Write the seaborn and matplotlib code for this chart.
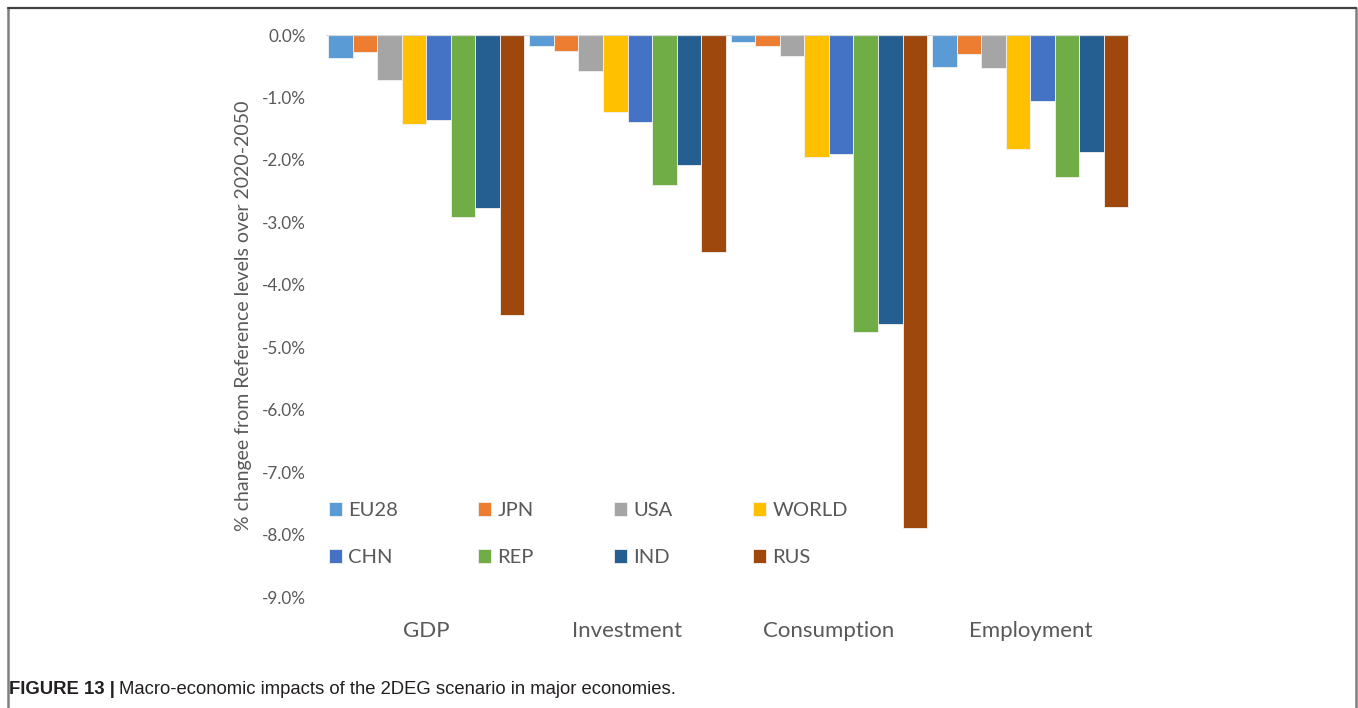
import matplotlib
matplotlib.use("Agg")
import matplotlib.pyplot as plt
from matplotlib.lines import Line2D
import seaborn as sns
import pandas as pd

# Indicators on the x axis and the regions compared within each indicator
indicators = ["GDP", "Investment", "Consumption", "Employment"]
regions = ["EU28", "JPN", "USA", "WORLD", "CHN", "REP", "IND", "RUS"]

# % change from reference levels (2020-2050), one list per region, ordered as `indicators`
eu28 = [-0.37, -0.18, -0.12, -0.51]
jpn = [-0.28, -0.26, -0.18, -0.30]
usa = [-0.72, -0.57, -0.33, -0.53]
world = [-1.42, -1.24, -1.96, -1.83]
chn = [-1.36, -1.39, -1.90, -1.06]
rep = [-2.92, -2.41, -4.75, -2.27]
ind = [-2.77, -2.08, -4.63, -1.88]
rus = [-4.48, -3.47, -7.89, -2.75]

yticks = [0, -1, -2, -3, -4, -5, -6, -7, -8, -9]
ylabel = "% changee from Reference levels over 2020-2050"
caption_bold = "FIGURE 13 |"
caption_text = "Macro-economic impacts of the 2DEG scenario in major economies."

palette = ["#5B9BD5", "#ED7D31", "#A5A5A5", "#FFC000",
           "#4472C4", "#70AD47", "#255E91", "#9E480E"]

series = [eu28, jpn, usa, world, chn, rep, ind, rus]
rows = []
for reg, vals in zip(regions, series):
    for ind_name, v in zip(indicators, vals):
        rows.append({"indicator": ind_name, "region": reg, "value": v})
df = pd.DataFrame(rows)

sns.set_theme(style="white")
plt.rcParams["font.family"] = ["Lato", "DejaVu Sans"]
text_color = "#595959"

W, H = 1358, 708
fig = plt.figure(figsize=(W / 100, H / 100), dpi=100)
ax = fig.add_axes([325.5 / W, 1 - 597 / H, (1131 - 325.5) / W, (597 - 35) / H])

sns.barplot(data=df, x="indicator", y="value", hue="region",
            order=indicators, hue_order=regions, palette=palette,
            width=0.975, saturation=1, edgecolor="#f2f2f2", linewidth=0.6,
            ax=ax, zorder=2)

ax.set_ylim(-9, 0)
ax.set_xlim(-0.5, len(indicators) - 0.5)
ax.set_yticks(yticks)
ax.set_yticklabels([f"{t:.1f}%" for t in yticks], color=text_color, fontsize=12.3)
ax.tick_params(axis="y", length=0, pad=14)
ax.tick_params(axis="x", length=0, pad=17, labelsize=16, labelcolor=text_color)
ax.set_xlabel("")
ax.set_ylabel(ylabel, color=text_color, fontsize=14)
ax.yaxis.set_label_coords(-0.0912, 0.5)
for s in ax.spines.values():
    s.set_visible(False)
ax.axhline(0, color="#d9d9d9", lw=1.6, zorder=3)

# Legend: two rows filled left to right
handles, labels = ax.get_legend_handles_labels()
ax.get_legend().remove()
lookup = dict(zip(labels, handles))
order = [regions[i] for i in (0, 4, 1, 5, 2, 6, 3, 7)]
leg = ax.legend([lookup[l] for l in order], order, ncol=4, frameon=False,
                loc="upper left", bbox_to_anchor=(0.004, 0.169),
                fontsize=14.5, handlelength=0.65, handleheight=0.65,
                handletextpad=0.3, columnspacing=4.0, labelspacing=1.5,
                borderaxespad=0, borderpad=0)
for t in leg.get_texts():
    t.set_color(text_color)

# Figure frame (open at the bottom)
frame_kw = dict(transform=fig.transFigure, clip_on=False)
fig.add_artist(Line2D([7.5 / W, 7.5 / W], [1 - 8 / H, 0], color="#7f7f7f", lw=1.8, **frame_kw))
fig.add_artist(Line2D([1356 / W, 1356 / W], [1 - 8 / H, 0], color="#7f7f7f", lw=1.8, **frame_kw))
fig.add_artist(Line2D([7.5 / W, 1356 / W], [1 - 8 / H, 1 - 8 / H], color="#404040", lw=1.6, **frame_kw))

# Caption
cap_font = ["Liberation Sans", "DejaVu Sans"]
t1 = fig.text(9 / W, 1 - 690 / H, caption_bold, fontsize=13.3, fontweight="bold",
              family=cap_font, color="#231f20", va="center", ha="left")
fig.canvas.draw()
bb = t1.get_window_extent()
fig.text((bb.x1 + 4) / W, 1 - 690 / H, caption_text, fontsize=13.3,
         family=cap_font, color="#231f20", va="center", ha="left")

fig.savefig("out.png", dpi=100)
